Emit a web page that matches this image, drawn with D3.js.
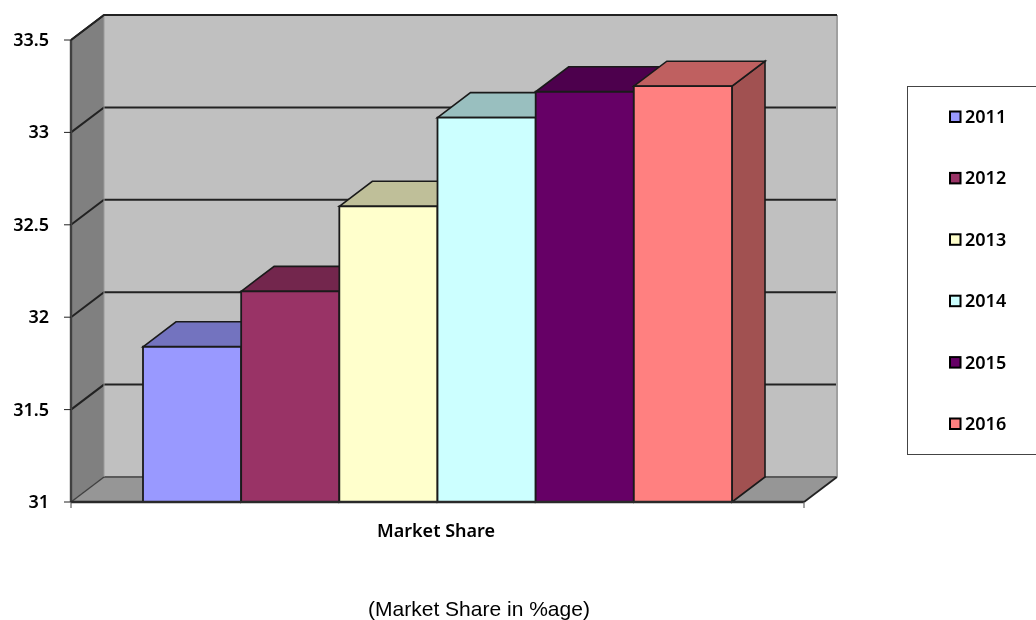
<!DOCTYPE html>
<html>
<head>
<meta charset="utf-8">
<script src="https://cdn.jsdelivr.net/npm/d3@7"></script>
<style>
body { margin: 0; background: #fff; }
text { fill: #000; }
svg { filter: blur(0.35px); }
.lab { font-family: "Noto Sans", sans-serif; font-weight: 600; font-size: 18px; }
</style>
</head>
<body>
<div id="chart"></div>
<script>
const years = ["2011", "2012", "2013", "2014", "2015", "2016"];
const shares = [31.84, 32.14, 32.6, 33.08, 33.22, 33.25];
const colors = ["#9999ff", "#993366", "#ffffcc", "#ccffff", "#660066", "#ff8080"];
const yTicks = [31, 31.5, 32, 32.5, 33, 33.5];
const yLabels = ["31", "31.5", "32", "32.5", "33", "33.5"];
const category = "Market Share";
const caption = "(Market Share in %age)";

const dx = 33, dy = -25; // depth of the 3d box
const left = 71, right = 804;

const svg = d3.select("#chart").append("svg")
    .attr("width", 1036)
    .attr("height", 620)
    .style("display", "block");

const y = d3.scaleLinear().domain([31, 33.5]).range([502, 40]);
const x = d3.scaleBand().domain(years).range([143, 732]);

function poly(pts, fill, stroke, sw) {
    return svg.append("polygon")
        .attr("points", pts.map(p => p.join(",")).join(" "))
        .attr("fill", fill)
        .attr("stroke", stroke || "none")
        .attr("stroke-width", sw || 0);
}
function line(x1, y1, x2, y2, stroke, sw) {
    return svg.append("line")
        .attr("x1", x1).attr("y1", y1).attr("x2", x2).attr("y2", y2)
        .attr("stroke", stroke).attr("stroke-width", sw);
}

const y0 = y(31), y1 = y(33.5);

// walls and floor
poly([[left + dx, y1 + dy], [right + dx, y1 + dy], [right + dx, y0 + dy], [left + dx, y0 + dy]], "#c0c0c0");
poly([[left, y0], [left + dx, y0 + dy], [left + dx, y1 + dy], [left, y1]], "#808080");
poly([[left, y0], [left + dx, y0 + dy], [right + dx, y0 + dy], [right, y0]], "#969696");

// gridlines, running round the side wall
yTicks.slice(1).forEach(t => {
    svg.append("polyline")
        .attr("points", [[left, y(t)], [left + dx, y(t) + dy], [right + dx, y(t) + dy]].map(p => p.join(",")).join(" "))
        .attr("fill", "none")
        .attr("stroke", "#222")
        .attr("stroke-width", 2);
});

line(left + dx, y0 + dy, right + dx, y0 + dy, "#5a5a5a", 2);
line(left + dx, y1 + dy, left + dx, y0 + dy, "#9a9a9a", 1);
line(right + dx, y1 + dy, right + dx, y0 + dy, "#a0a0a0", 2);
line(left, y0, left + dx, y0 + dy, "#404040", 1.4);
line(right, y0, right + dx, y0 + dy, "#222", 1.8);

// bars, left to right so that each one covers the side of the last
years.forEach((yr, i) => {
    const x0 = x(yr), x1 = x0 + x.bandwidth(), top = y(shares[i]);
    const c = d3.color(colors[i]);
    const topCol = d3.rgb(c.r * 0.75, c.g * 0.75, c.b * 0.75);
    const sideCol = d3.rgb(c.r * 0.63, c.g * 0.63, c.b * 0.63);
    poly([[x1, y0], [x1 + dx, y0 + dy], [x1 + dx, top + dy], [x1, top]], sideCol, "#1a1a1a", 1.6);
    poly([[x0, top], [x0 + dx, top + dy], [x1 + dx, top + dy], [x1, top]], topCol, "#1a1a1a", 1.6);
    poly([[x0, y0], [x0, top], [x1, top], [x1, y0]], colors[i], "#1a1a1a", 1.8);
});

// axes
line(left, y0, left, y1, "#404040", 2.4);
line(left, y0, right, y0, "#2a2a2a", 2.4);
line(left, y1, left + dx, y1 + dy, "#222", 1.6);
line(left + dx, y1 + dy, right + dx, y1 + dy, "#222", 2);

svg.append("g").selectAll("line").data(yTicks).join("line")
    .attr("x1", left - 7).attr("x2", left)
    .attr("y1", d => y(d)).attr("y2", d => y(d))
    .attr("stroke", "#222").attr("stroke-width", 1);
line(left, y0, left, y0 + 6, "#444", 1);
line(right, y0, right, y0 + 6, "#666", 1.2);

svg.append("g").selectAll("text").data(yTicks).join("text")
    .attr("class", "lab")
    .attr("x", 49)
    .attr("y", d => y(d) + 6)
    .attr("text-anchor", "end")
    .text((d, i) => yLabels[i]);

svg.append("text").attr("class", "lab")
    .attr("x", 436).attr("y", 537)
    .attr("text-anchor", "middle")
    .text(category);

svg.append("text")
    .attr("x", 479).attr("y", 616)
    .attr("text-anchor", "middle")
    .attr("font-family", "Liberation Sans")
    .attr("font-size", 21)
    .text(caption);

// legend
svg.append("rect")
    .attr("x", 907.5).attr("y", 86.5)
    .attr("width", 140).attr("height", 368)
    .attr("fill", "#fff")
    .attr("stroke", "#444")
    .attr("stroke-width", 1);

const legendY = d3.scalePoint().domain(years).range([117, 424]);

svg.append("g").selectAll("rect").data(years).join("rect")
    .attr("x", 950).attr("y", d => legendY(d) - 5.5)
    .attr("width", 10.5).attr("height", 10.5)
    .attr("fill", (d, i) => colors[i])
    .attr("stroke", "#000")
    .attr("stroke-width", 2);

svg.append("g").selectAll("text").data(years).join("text")
    .attr("class", "lab")
    .attr("x", 965).attr("y", d => legendY(d) + 6)
    .text(d => d);
</script>
</body>
</html>
